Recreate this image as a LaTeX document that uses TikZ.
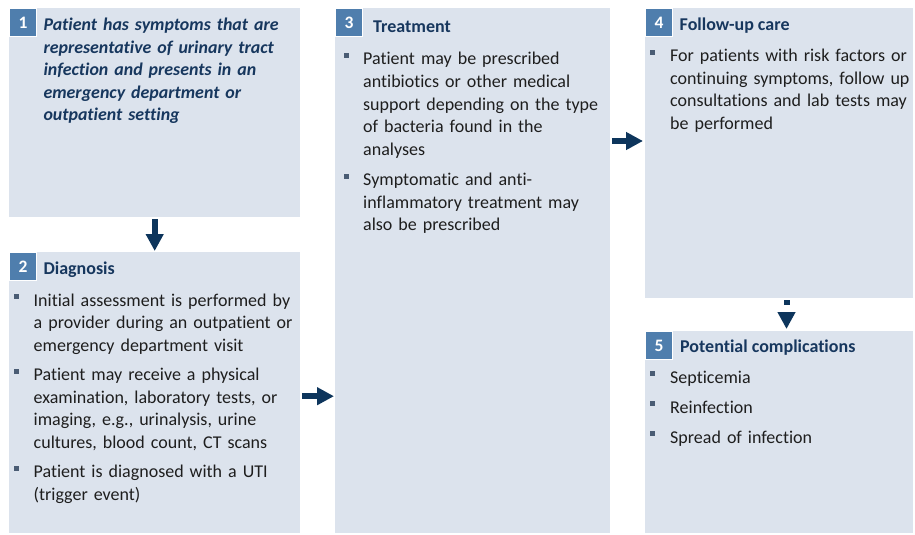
\documentclass[tikz,border=0pt]{standalone}
\usepackage{fontspec}
\setmainfont{Carlito}[Ligatures={NoCommon}]
\usetikzlibrary{arrows.meta}
\definecolor{boxfill}{HTML}{DCE3ED}
\definecolor{badgec}{HTML}{4F7EAD}
\definecolor{navy}{HTML}{17375E}
\definecolor{arrowc}{HTML}{0D355C}
\definecolor{bodytext}{HTML}{1E1E1E}
\definecolor{bulletc}{HTML}{4A5C74}
\newcommand\bulsq[2]{\fill[bulletc] (#1,#2-11.7) rectangle ++(4.7,4.7);}
\begin{document}
\begin{tikzpicture}[x=1pt,y=-1pt,
  panel/.style={fill=boxfill, draw=none, inner sep=0, anchor=north west},
  badge/.style={fill=badgec, draw=white, line width=1pt, inner sep=0, anchor=north west,
    minimum width=27pt, minimum height=28pt, text=white, font=\fontsize{17.5}{20}\selectfont\bfseries},
  body/.style={inner sep=0, anchor=base west, align=left, text width=275pt, text=bodytext,
    font=\fontsize{18}{22.5}\selectfont},
  lead/.style={body, text=navy, font=\fontsize{17.9}{22.5}\selectfont\bfseries\itshape},
  title/.style={inner sep=0, anchor=base west, text=navy, font=\fontsize{18}{22}\selectfont\bfseries},
  blockarrow/.style={draw=arrowc, line width=6pt, -{Triangle[width=17pt,length=17pt]}}
]
\useasboundingbox (0,0) rectangle (915,535);
% panels
\node[panel, minimum width=291pt, minimum height=209pt] (b1) at (9,8) {};
\node[panel, minimum width=291pt, minimum height=281pt] (b2) at (9,252) {};
\node[panel, minimum width=275pt, minimum height=525pt] (b3) at (335,8) {};
\node[panel, minimum width=268pt, minimum height=290pt] (b4) at (645,8) {};
\node[panel, minimum width=268pt, minimum height=202pt] (b5) at (645,331) {};
% badges
\node[badge] (n1) at (9,8) {1};
\node[badge] (n2) at (9,252) {2};
\node[badge] (n3) at (335,8) {3};
\node[badge] (n4) at (645,8) {4};
\node[badge] (n5) at (645,331) {5};
% box 1
\node[lead] (t1) at (43.3,30.7) {Patient has symptoms that are\\representative of urinary tract\\infection and presents in an\\emergency department or\\outpatient setting};
% box 2
\node[title] (h2) at (43.3,274) {Diagnosis};
\bulsq{14}{306}
\node[body] (t2a) at (33.5,306) {Initial assessment is performed by\\a provider during an outpatient or\\emergency department visit};
\bulsq{14}{380.5}
\node[body] (t2b) at (33.5,380.5) {Patient may receive a physical\\examination, laboratory tests, or\\imaging, e.g., urinalysis, urine\\cultures, blood count, CT scans};
\bulsq{14}{477.5}
\node[body] (t2c) at (33.5,477.5) {Patient is diagnosed with a UTI\\(trigger event)};
% box 3
\node[title] (h3) at (373,32.7) {Treatment};
\bulsq{344}{65}
\node[body] (t3a) at (363,65) {Patient may be prescribed\\antibiotics or other medical\\support depending on the type\\of bacteria found in the\\analyses};
\bulsq{344}{185.5}
\node[body] (t3b) at (363,185.5) {Symptomatic and anti-\\inflammatory treatment may\\also be prescribed};
% box 4
\node[title] (h4) at (679.5,31) {Follow-up care};
\bulsq{650}{62}
\node[body] (t4a) at (670,62) {For patients with risk factors or\\continuing symptoms, follow up\\consultations and lab tests may\\be performed};
% box 5
\node[title] (h5) at (680,352.7) {Potential complications};
\bulsq{650}{383}
\node[body] (t5a) at (670,383) {Septicemia};
\bulsq{650}{413}
\node[body] (t5b) at (670,413) {Reinfection};
\bulsq{650}{443}
\node[body] (t5c) at (670,443) {Spread of infection};
% connectors
\coordinate (a34) at (0,141);
\coordinate (a45) at (786.5,0);
\draw[blockarrow, shorten <=2pt, shorten >=1pt] (b1.south) -- (b2.north);
\draw[blockarrow, shorten <=1.5pt, shorten >=1pt] ([yshift=-3.5pt]b2.east) -- ([yshift=-3.5pt]b2.east -| b3.west);
\draw[blockarrow, shorten <=1.5pt, shorten >=2pt] (b3.east |- a34) -- (b4.west |- a34);
\draw[blockarrow, dash pattern=on 5pt off 30pt, shorten <=2pt, shorten >=2pt] (b4.south -| a45) -- (b5.north -| a45);
\end{tikzpicture}
\end{document}
